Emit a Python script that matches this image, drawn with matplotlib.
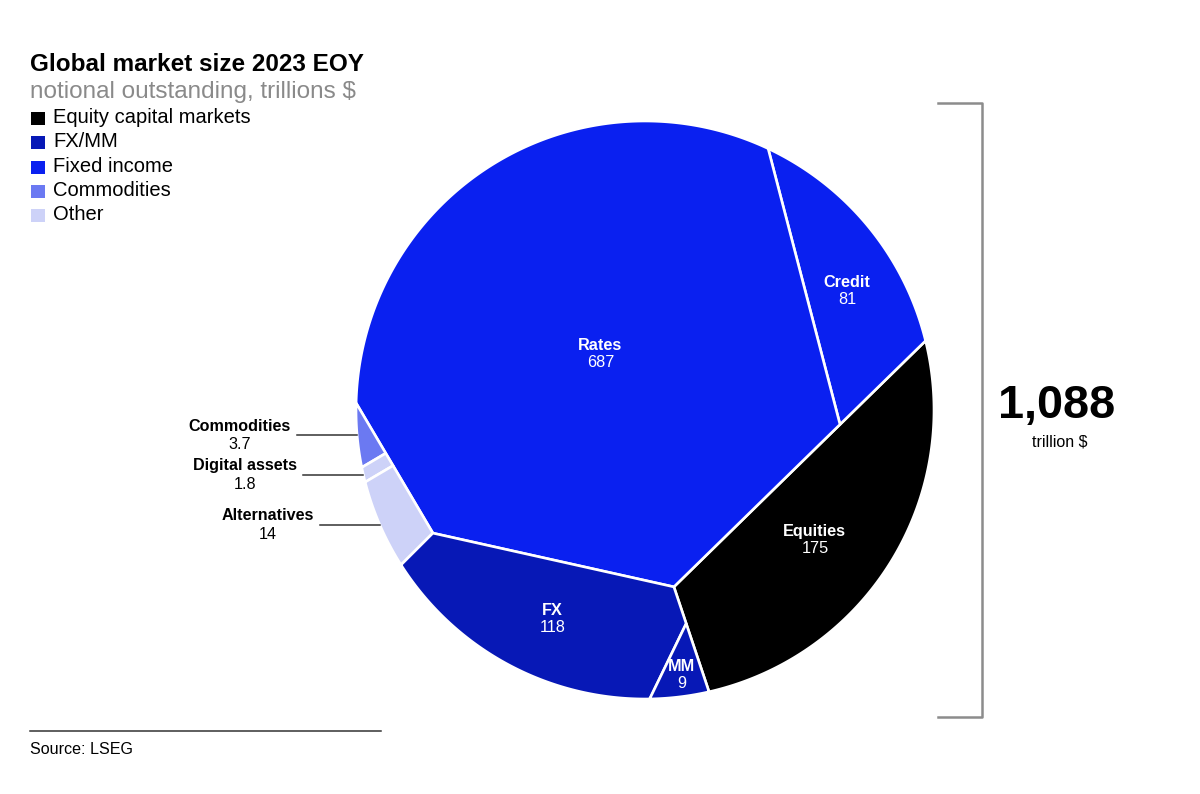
import numpy as np
import matplotlib
matplotlib.use("Agg")
import matplotlib.pyplot as plt
from matplotlib.patches import Polygon, Rectangle

plt.rcParams['font.family'] = ['Liberation Sans', 'DejaVu Sans']

# %% DATA (trillions $, 2023 EOY)
group_names = ['Equity capital markets', 'FX/MM', 'Fixed income', 'Commodities', 'Other']
group_colors = ['#000000', '#0718b6', '#0a20f0', '#6b79f2', '#cdd2f8']

segment_names = ['Equities', 'Credit', 'Rates', 'Commodities', 'Digital assets', 'Alternatives', 'FX', 'MM']
segment_values = [175, 81, 687, 3.7, 1.8, 14, 118, 9]
segment_groups = ['Equity capital markets', 'Fixed income', 'Fixed income', 'Commodities',
                  'Other', 'Other', 'FX/MM', 'FX/MM']

# segments labelled outside the circle with a leader line
outside_labels = ['Commodities', 'Digital assets', 'Alternatives']

total_label = '1,088'

# %% LAYOUT OF THE "OFF-CENTRE" PIE
# circle position in pixels, hubs in unit-circle coordinates
CX, CY, R = 645, 410, 289
START = -77.2                      # angle where the fan from the main hub starts
HUB_A = np.array([0.100, -0.612])  # main hub
HUB_J = np.array([-0.734, -0.426]) # hub for FX / small segments
T_CREDIT, T_MM = 0.66, 0.35        # sub-hubs along hub->rim edges

vals = dict(zip(segment_names, segment_values))
total = sum(segment_values)
color_of = dict(zip(group_names, group_colors))


def target(*names):
    # area on the unit disk for a set of segments
    return sum(vals[n] for n in names) / total * np.pi


def rim(t):
    r = np.radians(t)
    return np.array([np.cos(r), np.sin(r)])


def arc(t1, t2):
    n = max(int(abs(t2 - t1) * 4), 2)
    r = np.radians(np.linspace(t1, t2, n))
    return np.column_stack([np.cos(r), np.sin(r)])


def area(p):
    if len(p) < 3:
        return 0.0
    x, y = p[:, 0], p[:, 1]
    return 0.5 * abs(np.dot(x, np.roll(y, -1)) - np.dot(y, np.roll(x, -1)))


def centroid(p):
    x, y = p[:, 0], p[:, 1]
    cr = x * np.roll(y, -1) - np.roll(x, -1) * y
    a = cr.sum() / 2
    return np.array([((x + np.roll(x, -1)) * cr).sum(),
                     ((y + np.roll(y, -1)) * cr).sum()]) / (6 * a)


def solve(fn, goal, lo, hi):
    up = fn(hi) > fn(lo)
    for _ in range(60):
        mid = 0.5 * (lo + hi)
        if (fn(mid) < goal) == up:
            lo = mid
        else:
            hi = mid
    return 0.5 * (lo + hi)


def cut(poly, origin, u, c, low=True):
    # keep the part of a convex polygon with (p - origin).u <= c (or >= c)
    d = (poly - origin) @ u - c
    if not low:
        d = -d
    out = []
    n = len(poly)
    for i in range(n):
        p, q = poly[i], poly[(i + 1) % n]
        dp, dq = d[i], d[(i + 1) % n]
        if dp <= 0:
            out.append(p)
        if dp * dq < 0:
            out.append(p + (q - p) * dp / (dp - dq))
    return np.array(out)


# equities: fan from the main hub
t1 = solve(lambda t: area(np.vstack([HUB_A, arc(START, t)])), target('Equities'), START, START + 300)
hub_c = HUB_A + T_CREDIT * (rim(t1) - HUB_A)
t2 = solve(lambda t: area(np.vstack([hub_c, arc(t1, t)])), target('Credit'), t1, t1 + 150)

END = START + 360
hub_m = HUB_A + T_MM * (rim(END) - HUB_A)
t3 = solve(lambda t: area(np.vstack([hub_m, arc(t, END)])), target('MM'), END - 60, END)
t4 = solve(lambda t: area(np.vstack([HUB_J, arc(t, t3), hub_m, HUB_A])), target('FX'), t3 - 100, t3)
t5 = solve(lambda t: area(np.vstack([HUB_J, arc(t, t4)])),
           target('Commodities', 'Digital assets', 'Alternatives'), t4 - 60, t4)

polys = {
    'Equities': np.vstack([HUB_A, arc(START, t1)]),
    'Credit': np.vstack([hub_c, arc(t1, t2)]),
    'Rates': np.vstack([hub_c, arc(t2, t5), HUB_J, HUB_A]),
    'MM': np.vstack([hub_m, arc(t3, END)]),
    'FX': np.vstack([HUB_J, arc(t4, t3), hub_m, HUB_A]),
}

# small segments: slices of the rim chunk, cut across its chord
small = np.vstack([HUB_J, arc(t5, t4)])
p5 = rim(t5)
u = (HUB_J - p5) / np.linalg.norm(HUB_J - p5)
s1 = solve(lambda s: area(cut(small, p5, u, s)), target('Commodities'), 0, 1.5)
s2 = solve(lambda s: area(cut(small, p5, u, s)), target('Commodities', 'Digital assets'), 0, 1.5)
polys['Commodities'] = cut(small, p5, u, s1)
polys['Digital assets'] = cut(cut(small, p5, u, s1, low=False), p5, u, s2)
polys['Alternatives'] = cut(small, p5, u, s2, low=False)


def to_px(p):
    p = np.atleast_2d(p)
    return np.column_stack([CX + R * p[:, 0], CY - R * p[:, 1]])


# %% DRAW
fig = plt.figure(figsize=(12, 7.94), dpi=100)
ax = fig.add_axes([0, 0, 1, 1])
ax.set_xlim(0, 1200)
ax.set_ylim(794, 0)
ax.axis('off')
renderer = fig.canvas.get_renderer()

for name, grp in zip(segment_names, segment_groups):
    ax.add_patch(Polygon(to_px(polys[name]), closed=True, facecolor=color_of[grp],
                         edgecolor='white', linewidth=1.9, joinstyle='round'))

for name in segment_names:
    v = vals[name]
    if name not in outside_labels:
        cx, cy = to_px(centroid(polys[name]))[0]
        cy += 3
        ax.text(cx, cy - 8.5, name, color='white', fontsize=11.7, fontweight='bold',
                ha='center', va='center')
        ax.text(cx, cy + 8.5, f'{v:g}', color='white', fontsize=11.7, ha='center', va='center')
    else:
        p = polys[name]
        on_rim = p[np.hypot(p[:, 0], p[:, 1]) > 0.999]
        ang = np.mod(np.degrees(np.arctan2(on_rim[:, 1], on_rim[:, 0])), 360)
        rx, ry = to_px(rim((ang.min() + ang.max()) / 2))[0]
        ax.plot([rx - 60, rx], [ry, ry], color='#333333', linewidth=1.1)
        t = ax.text(rx - 66, ry - 9, name, fontsize=11.6, fontweight='bold', ha='right', va='center')
        bb = t.get_window_extent(renderer)
        xc = ax.transData.inverted().transform(((bb.x0 + bb.x1) / 2, 0))[0]
        ax.text(xc, ry + 9.5, f'{v:g}', fontsize=11.6, ha='center', va='center')

# bracket with the total
top, bot = CY - R - 18, CY + R + 18
ax.plot([CX + R + 4, CX + R + 48, CX + R + 48, CX + R + 4], [top, top, bot, bot],
        color='#8c8c8c', linewidth=1.8)
ax.text(1057, 418, total_label, fontsize=33.7, fontweight='bold', ha='center', va='baseline')
ax.text(1060, 446, 'trillion $', fontsize=11.5, ha='center', va='baseline')

# title, subtitle, legend
ax.text(30, 71, 'Global market size 2023 EOY', fontsize=17.5, fontweight='bold', va='baseline')
ax.text(30, 98, 'notional outstanding, trillions $', fontsize=17.5, color='#8a8a8a', va='baseline')
for i, (g, c) in enumerate(zip(group_names, group_colors)):
    y = 123 + i * 24.3
    ax.add_patch(Rectangle((31, y - 11), 14, 13, facecolor=c, edgecolor='none'))
    ax.text(53, y, g, fontsize=14.5, va='baseline')

# source
ax.plot([30, 381], [731, 731], color='#333333', linewidth=1.1)
ax.text(30, 754, 'Source: LSEG', fontsize=11.6, va='baseline')

fig.savefig('out.png', dpi=100)
